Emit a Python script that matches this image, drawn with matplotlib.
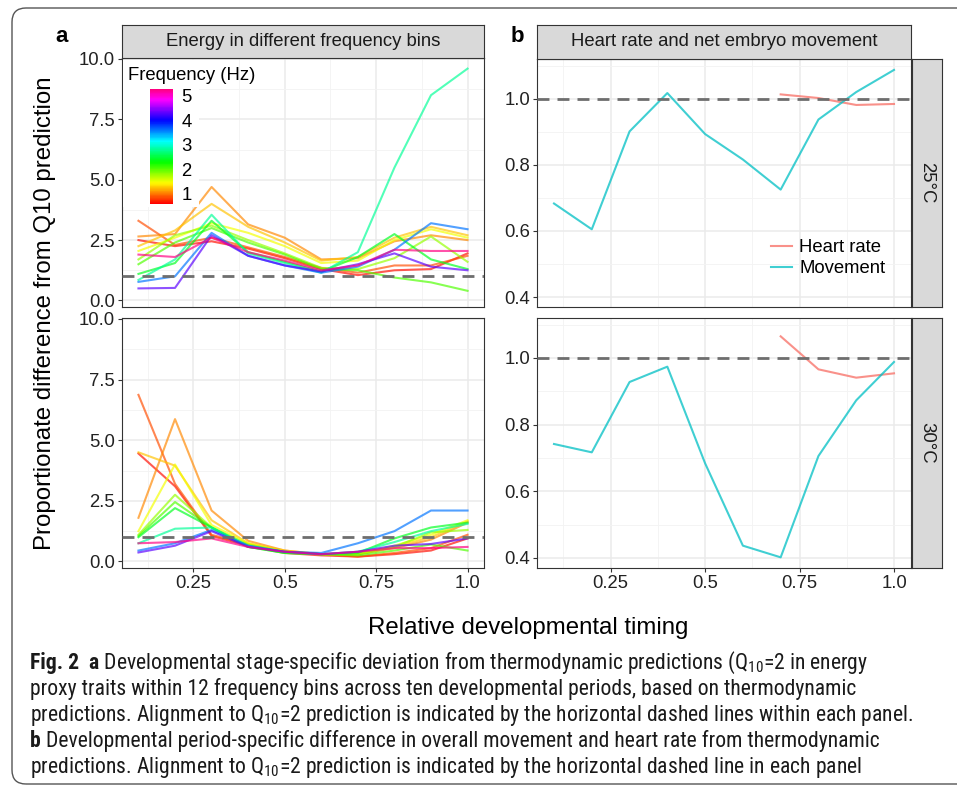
import numpy as np
import matplotlib
matplotlib.use('Agg')
import matplotlib.pyplot as plt
import matplotlib.colorbar as mcolorbar
from matplotlib import font_manager
from matplotlib.patches import Rectangle, FancyBboxPatch
from matplotlib.colors import LinearSegmentedColormap, Normalize
from matplotlib.transforms import IdentityTransform

plt.rcParams['font.family'] = ['Liberation Sans', 'DejaVu Sans']

timing = [0.1, 0.2, 0.3, 0.4, 0.5, 0.6, 0.7, 0.8, 0.9, 1.0]
freqs = [0.65, 0.85, 1.05, 1.25, 1.5, 1.8, 2.05, 2.4, 2.8, 3.6, 4.3, 5.25]

# panel a, 25 C (one row per frequency bin)
energy_25 = [
    [2.5, 2.25, 2.45, 2.15, 1.75, 1.3, 1.05, 1.25, 1.3, 1.95],
    [3.3, 2.3, 2.6, 2.2, 1.8, 1.35, 1.15, 1.45, 1.45, 1.85],
    [2.65, 2.75, 4.7, 3.15, 2.6, 1.7, 1.75, 2.45, 2.7, 2.5],
    [2.25, 2.9, 4.0, 3.05, 2.4, 1.65, 1.8, 2.6, 3.05, 2.7],
    [2.05, 2.6, 3.2, 2.8, 2.25, 1.55, 1.65, 2.5, 2.95, 2.6],
    [1.7, 2.7, 3.1, 2.5, 1.95, 1.35, 1.3, 1.75, 2.65, 1.6],
    [1.5, 2.4, 3.0, 2.4, 1.9, 1.3, 1.25, 0.95, 0.75, 0.4],
    [1.1, 1.55, 3.3, 2.0, 1.6, 1.2, 1.8, 2.75, 1.7, 1.3],
    [0.85, 1.7, 3.55, 1.95, 1.55, 1.15, 2.0, 5.5, 8.5, 9.6],
    [0.77, 1.0, 2.8, 1.85, 1.45, 1.15, 1.4, 2.1, 3.2, 2.95],
    [0.5, 0.52, 2.7, 1.85, 1.45, 1.2, 1.5, 1.95, 1.4, 1.25],
    [1.9, 1.8, 2.6, 2.0, 1.65, 1.25, 1.45, 2.1, 2.05, 2.05],
]

# panel a, 30 C
energy_30 = [
    [4.45, 3.1, 1.05, 0.65, 0.35, 0.25, 0.2, 0.3, 0.45, 0.95],
    [6.87, 3.2, 1.1, 0.7, 0.4, 0.3, 0.2, 0.35, 0.55, 1.1],
    [1.8, 5.87, 2.1, 0.85, 0.45, 0.3, 0.3, 0.55, 0.9, 1.6],
    [4.5, 3.95, 1.7, 0.75, 0.45, 0.3, 0.3, 0.6, 1.0, 1.65],
    [1.25, 4.0, 1.5, 0.75, 0.4, 0.3, 0.3, 0.65, 1.1, 1.7],
    [1.1, 2.75, 1.4, 0.7, 0.4, 0.3, 0.3, 0.6, 1.2, 1.3],
    [1.05, 2.45, 1.4, 0.6, 0.35, 0.3, 0.25, 0.45, 0.7, 0.45],
    [1.0, 2.2, 1.4, 0.6, 0.35, 0.3, 0.35, 0.95, 1.4, 1.6],
    [0.75, 1.35, 1.4, 0.65, 0.4, 0.3, 0.4, 0.8, 1.25, 1.55],
    [0.45, 0.75, 1.3, 0.65, 0.4, 0.35, 0.75, 1.25, 2.1, 2.1],
    [0.37, 0.65, 1.25, 0.6, 0.4, 0.3, 0.4, 0.65, 0.72, 0.95],
    [0.75, 0.8, 0.95, 0.6, 0.4, 0.3, 0.4, 0.55, 0.55, 0.6],
]

# panel b
movement_25 = [0.683, 0.605, 0.901, 1.017, 0.893, 0.816, 0.725, 0.937, 1.02, 1.087]
movement_30 = [0.742, 0.717, 0.928, 0.974, 0.684, 0.437, 0.402, 0.706, 0.873, 0.988]
heart_timing = [0.7, 0.8, 0.9, 1.0]
heart_25 = [1.013, 1.002, 0.981, 0.984]
heart_30 = [1.065, 0.966, 0.941, 0.954]

caption_lines = [
    'Developmental stage-specific deviation from thermodynamic predictions (Q$_{10}$=2 in energy',
    'proxy traits within 12 frequency bins across ten developmental periods, based on thermodynamic',
    'predictions. Alignment to Q$_{10}$=2 prediction is indicated by the horizontal dashed lines within each panel.',
    'Developmental period-specific difference in overall movement and heart rate from thermodynamic',
    'predictions. Alignment to Q$_{10}$=2 prediction is indicated by the horizontal dashed line in each panel',
]

# narrowest available face for the caption
names = {f.name for f in font_manager.fontManager.ttflist}
cap_family = next((n for n in ['Liberation Sans Narrow', 'Roboto Condensed', 'Open Sans Condensed',
                               'Roboto', 'Liberation Sans'] if n in names), 'DejaVu Sans')
plt.rcParams['mathtext.fontset'] = 'custom'
plt.rcParams['mathtext.rm'] = cap_family
plt.rcParams['mathtext.it'] = cap_family + ':italic'
plt.rcParams['mathtext.bf'] = cap_family + ':bold'

W, H = 957, 789
fig = plt.figure(figsize=(W / 100, H / 100), dpi=100)


def fax(l, t, r, b):
    return [l / W, 1 - b / H, (r - l) / W, (b - t) / H]


cmap = LinearSegmentedColormap.from_list('rb', plt.cm.hsv(np.linspace(0, 0.93, 256)))
norm = Normalize(0.59, 5.27)
tick_c = '#333333'
fs = 13.3


def style(ax, ylim, yticks, yminor, xlabels):
    ax.set_xlim(0.055, 1.045)
    ax.set_ylim(*ylim)
    ax.set_xticks([0.25, 0.5, 0.75, 1.0])
    ax.set_xticks([0.125, 0.375, 0.625, 0.875], minor=True)
    ax.set_yticks(yticks)
    ax.set_yticks(yminor, minor=True)
    ax.grid(True, which='major', color='#ebebeb', lw=1.1, zorder=0)
    ax.grid(True, which='minor', color='#f3f3f3', lw=0.6, zorder=0)
    ax.set_axisbelow(True)
    for s in ax.spines.values():
        s.set_color('#333333')
        s.set_linewidth(0.8)
    ax.tick_params(which='minor', length=0)
    ax.tick_params(axis='y', length=3, color=tick_c, labelsize=fs, labelcolor='#222222', pad=2)
    if xlabels:
        ax.set_xticklabels(['0.25', '0.5', '0.75', '1.0'])
        ax.tick_params(axis='x', length=3, color=tick_c, labelsize=fs, labelcolor='#222222', pad=2)
    else:
        ax.tick_params(axis='x', length=0, labelbottom=False)
    ax.axhline(1.0, color='#6e6e6e', lw=2, ls=(0, (4.3, 2.9)), zorder=4)


a1 = fig.add_axes(fax(122, 58, 484, 307))
a2 = fig.add_axes(fax(122, 318, 484, 568))
b1 = fig.add_axes(fax(537, 59, 911, 307))
b2 = fig.add_axes(fax(537, 318, 911, 568))

for ax, data in [(a1, energy_25), (a2, energy_30)]:
    for f, vals in zip(freqs, data):
        ax.plot(timing, vals, color=cmap(norm(f)), lw=1.5, alpha=0.68, zorder=3)
    style(ax, (-0.27, 10.04), [0, 2.5, 5, 7.5, 10], [1.25, 3.75, 6.25, 8.75],
          ax is a2)
    ax.set_yticklabels(['0.0', '2.5', '5.0', '7.5', '10.0'])

for ax, mv, hr in [(b1, movement_25, heart_25), (b2, movement_30, heart_30)]:
    ax.plot(heart_timing, hr, color='#F8766D', lw=1.5, alpha=0.8, zorder=3, label='Heart rate')
    ax.plot(timing, mv, color='#00BFC4', lw=1.5, alpha=0.75, zorder=3, label='Movement')
    style(ax, (0.37, 1.12), [0.4, 0.6, 0.8, 1.0], [0.5, 0.7, 0.9, 1.1], ax is b2)

b1.legend(loc='center left', bbox_to_anchor=(0.625, 0.197), frameon=False, fontsize=fs,
          handlelength=1.15, handletextpad=0.4, labelspacing=0.2, borderpad=0,
          borderaxespad=0)

# colour legend inside panel a
a1.add_patch(Rectangle((0.004, 0.40), 0.21, 0.592, transform=a1.transAxes,
                       facecolor='white', edgecolor='none', zorder=5))
cax = fig.add_axes(fax(150, 89, 173, 204))
cb = mcolorbar.ColorbarBase(cax, cmap=cmap, norm=norm, ticks=[1, 2, 3, 4, 5])
cb.outline.set_visible(False)
cax.tick_params(length=0, labelsize=fs, pad=6)
fig.text(128 / W, 1 - 75 / H, 'Frequency (Hz)', fontsize=fs, va='center', ha='left')

# facet strips
for l, t, r, b, label, rot in [(122, 25, 484, 58, 'Energy in different frequency bins', 0),
                               (537, 25, 911, 59, 'Heart rate and net embryo movement', 0),
                               (912, 59, 942, 307, '25°C', 270),
                               (912, 318, 942, 568, '30°C', 270)]:
    sx = fig.add_axes(fax(l, t, r, b))
    sx.set_facecolor('#d9d9d9')
    sx.set_xticks([])
    sx.set_yticks([])
    for s in sx.spines.values():
        s.set_color('#333333')
        s.set_linewidth(0.8)
    sx.text(0.5, 0.5, label, transform=sx.transAxes, ha='center', va='center',
            fontsize=fs, rotation=rot, color='#1a1a1a')

fig.text(62 / W, 1 - 37 / H, 'a', fontsize=16, fontweight='bold', ha='center', va='center')
fig.text(517 / W, 1 - 37 / H, 'b', fontsize=16, fontweight='bold', ha='center', va='center')
fig.text(45 / W, 1 - 313 / H, 'Proportionate difference from Q10 prediction', fontsize=17.3,
         rotation=90, ha='center', va='center')
fig.text(528 / W, 1 - 628 / H, 'Relative developmental timing', fontsize=17.3,
         ha='center', va='center')

# outer frame
fig.patches.append(FancyBboxPatch((12, H - 784), 970, 776, boxstyle='round,pad=0,rounding_size=14',
                                  transform=IdentityTransform(), facecolor='none',
                                  edgecolor='#555555', lw=1))

# caption, sized so the longest line spans the same width as in the figure
renderer = fig.canvas.get_renderer()
probe = fig.text(0, 0, caption_lines[2], fontsize=10, family=cap_family)
cap_fs = min(15.6, 10 * 915 / probe.get_window_extent(renderer).width)
probe.remove()

caption = [
    (663, [('Fig. 2', True), ('  a', True), (' ' + caption_lines[0], False)]),
    (689, [(caption_lines[1], False)]),
    (716, [(caption_lines[2], False)]),
    (741, [('b', True), (' ' + caption_lines[3], False)]),
    (768, [(caption_lines[4], False)]),
]
for y, parts in caption:
    x = 30
    for txt, bold in parts:
        t = fig.text(x / W, 1 - y / H, txt, fontsize=cap_fs, family=cap_family,
                     fontweight='bold' if bold else 'normal', va='center', ha='left', color='#1a1a1a')
        x += t.get_window_extent(renderer).width

fig.savefig('out.png', dpi=100)
